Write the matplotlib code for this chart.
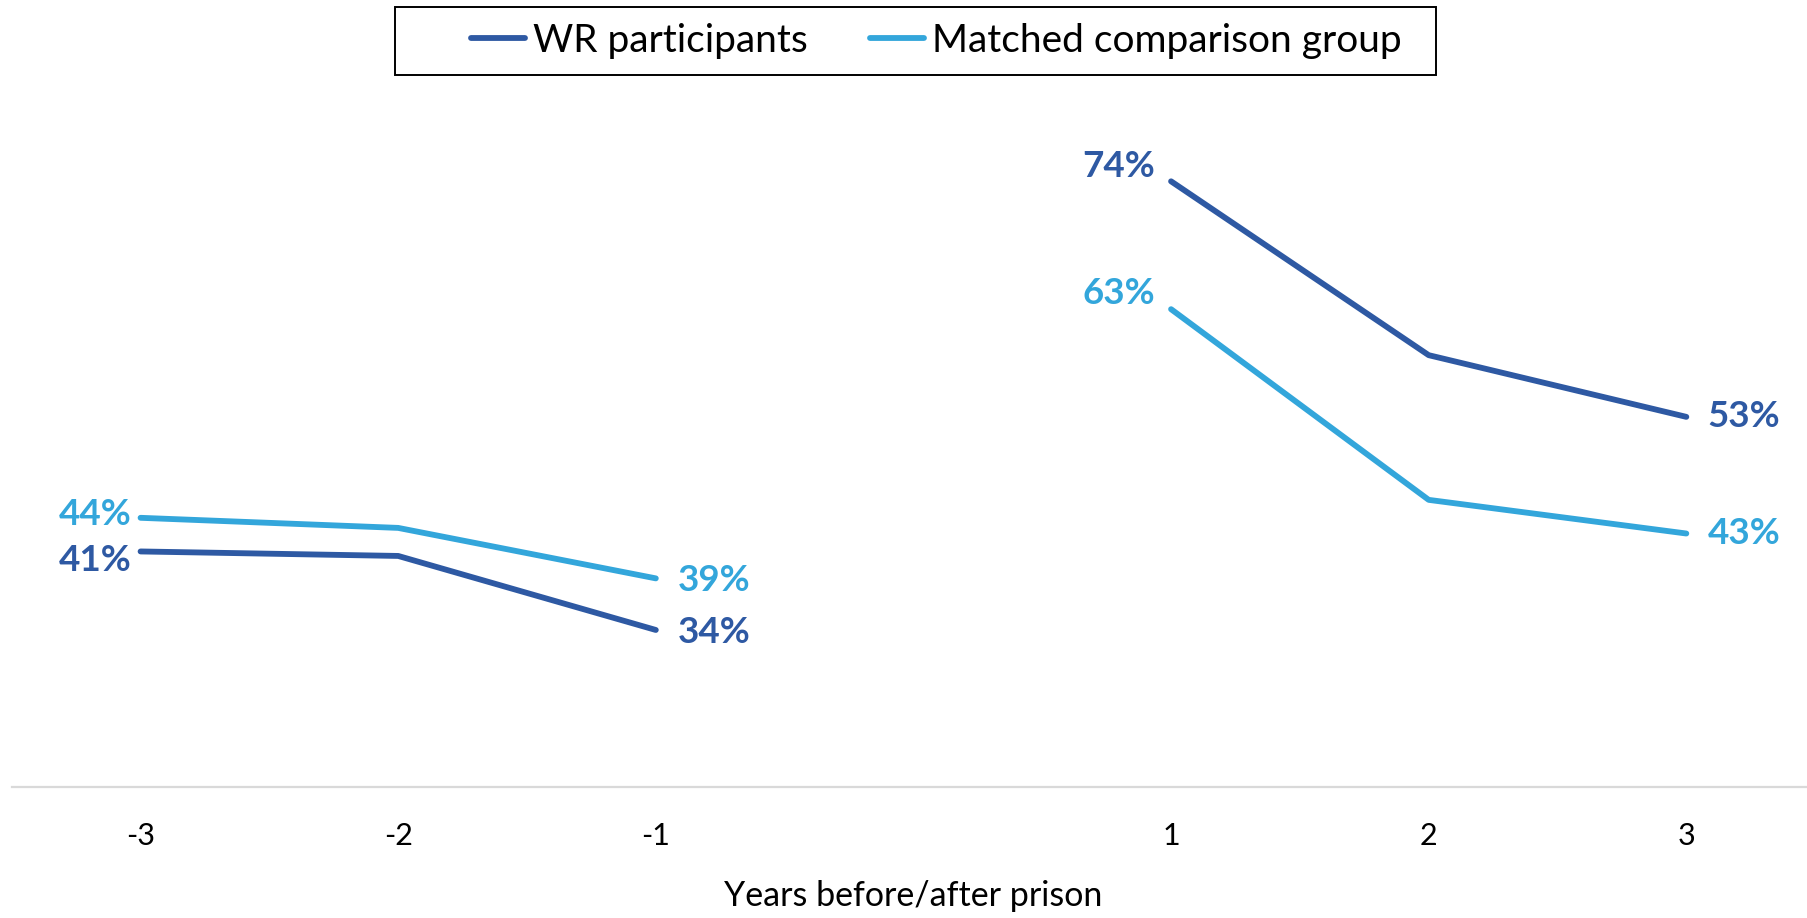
import matplotlib.pyplot as plt
import numpy as np
from matplotlib.patches import Rectangle

plt.rcParams["font.family"] = ["Lato", "DejaVu Sans"]

# Share of people in work, by year relative to the prison spell
years = ["-3", "-2", "-1", "", "1", "2", "3"]
wr_participants = [41, 40.6, 34, np.nan, 74, 58.5, 53]
matched_group = [44, 43.1, 38.6, np.nan, 62.6, 45.6, 42.6]

DARK_BLUE = "#2E59A3"
LIGHT_BLUE = "#33A6DB"

# which points get a value label: index -> (dx px, dy px, ha)
wr_labels = {0: (-9, -9, "right"), 2: (22, -3, "left"),
             4: (-16, 15, "right"), 6: (21, 0, "left")}
matched_labels = {0: (-9, 3, "right"), 2: (22, -2, "left"),
                  4: (-16, 16, "right"), 6: (21, 0, "left")}

fig = plt.figure(figsize=(18.07, 9.18), dpi=100)
ax = fig.add_axes([0.0065, 0.1427, 0.998, 0.7331])

x = np.arange(len(years))
series = [
    ("WR participants", wr_participants, DARK_BLUE, wr_labels),
    ("Matched comparison group", matched_group, LIGHT_BLUE, matched_labels),
]
for name, vals, color, labels in series:
    ax.plot(x, vals, color=color, lw=4.2, solid_capstyle="round",
            solid_joinstyle="round", label=name)
    for i, (dx, dy, ha) in labels.items():
        ax.annotate(f"{vals[i]:.0f}%", (x[i], vals[i]), xytext=(dx, dy),
                    textcoords="offset pixels", ha=ha, va="center",
                    fontsize=26.5, fontweight="bold", color=color)

ax.set_xlim(-0.5, len(years) - 0.5)
ax.set_ylim(20, 80)
ax.set_xticks(x)
ax.set_xticklabels(years, fontsize=22)
ax.set_yticks([])
ax.tick_params(axis="x", length=0, pad=25)
for side in ("top", "right", "left"):
    ax.spines[side].set_visible(False)
ax.spines["bottom"].set_color("#D9D9D9")
ax.spines["bottom"].set_linewidth(1.6)
ax.set_xlabel("Years before/after prison", fontsize=24.5, labelpad=22)

# legend with a hand-drawn frame
fig.legend(loc="center", bbox_to_anchor=(0.518, 1 - 41 / 918), ncol=2,
           frameon=False, fontsize=28, handlelength=1.4, handletextpad=0.2,
           columnspacing=1.6)
fig.patches.append(Rectangle((395 / 1807, 1 - 75 / 918), 1041 / 1807, 68 / 918,
                             transform=fig.transFigure, fill=False,
                             edgecolor="black", lw=1.4))

fig.savefig("out.png", dpi=100)
